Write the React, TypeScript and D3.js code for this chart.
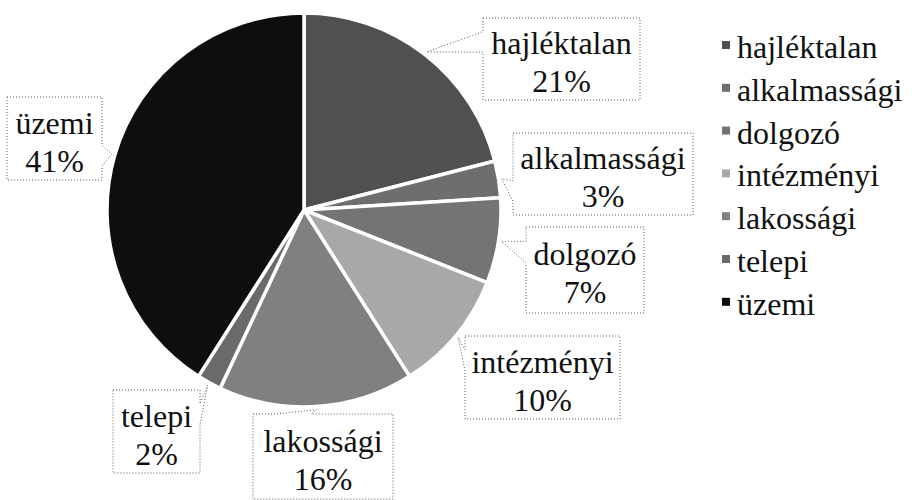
import { pie, arc, PieArcDatum } from "d3";

// slice data, clockwise from 12 o'clock
const categories = [
  "hajléktalan",
  "alkalmassági",
  "dolgozó",
  "intézményi",
  "lakossági",
  "telepi",
  "üzemi",
];
const shares = [21, 3, 7, 10, 16, 2, 41];
const percentLabels = ["21%", "3%", "7%", "10%", "16%", "2%", "41%"];

// greys of the scanned slices
const fills = [
  "#505050",
  "#6e6e6e",
  "#747474",
  "#a8a8a8",
  "#808080",
  "#6a6a6a",
  "#0e0e0e",
];

// hand placed label boxes (like the original Excel labels)
const labelBoxes = [
  { x: 483, y: 18, w: 157, h: 82 },
  { x: 513, y: 133, w: 180, h: 82 },
  { x: 526, y: 227, w: 118, h: 86 },
  { x: 465, y: 336, w: 155, h: 83 },
  { x: 253, y: 414, w: 140, h: 85 },
  { x: 113, y: 390, w: 87, h: 83 },
  { x: 7, y: 97, w: 95, h: 83 },
];

const W = 912;
const H = 500;
const cx = 304;
const cy = 210;
const R = 197;
const FONT =
  '"Liberation Serif", "Times New Roman", Times, "DejaVu Serif", "Noto Serif", FreeSerif, Tinos, serif';
const FS = 32;

type Row = { name: string; value: number; label: string; fill: string };
const rows: Row[] = categories.map((name, i) => ({
  name,
  value: shares[i],
  label: percentLabels[i],
  fill: fills[i],
}));

// wedge-rect callout, same rules as Office's wedgeRectCallout
function callout(b: { x: number; y: number; w: number; h: number }, tx: number, ty: number) {
  const { x: l, y: t, w, h } = b;
  const r = l + w;
  const bt = t + h;
  const dx = tx - (l + w / 2);
  const dy = ty - (t + h / 2);
  const horiz = Math.abs(dx) / w > Math.abs(dy) / h;
  const pts: [number, number][] = [];
  if (horiz) {
    const y1 = t + (h * (dy > 0 ? 7 : 2)) / 12;
    const y2 = t + (h * (dy > 0 ? 10 : 5)) / 12;
    if (dx < 0) {
      pts.push([l, t], [r, t], [r, bt], [l, bt], [l, y2], [tx, ty], [l, y1]);
    } else {
      pts.push([l, t], [r, t], [r, y1], [tx, ty], [r, y2], [r, bt], [l, bt]);
    }
  } else {
    const x1 = l + (w * (dx > 0 ? 7 : 2)) / 12;
    const x2 = l + (w * (dx > 0 ? 10 : 5)) / 12;
    if (dy < 0) {
      pts.push([l, t], [x1, t], [tx, ty], [x2, t], [r, t], [r, bt], [l, bt]);
    } else {
      pts.push([l, t], [r, t], [r, bt], [x2, bt], [tx, ty], [x1, bt], [l, bt]);
    }
  }
  return "M" + pts.map((p) => p.join(",")).join("L") + "Z";
}

export default function App() {
  const arcs = pie<Row>()
    .value((d) => d.value)
    .sort(null)(rows);

  const slice = arc<PieArcDatum<Row>>().innerRadius(0).outerRadius(R);
  const tipArc = arc<PieArcDatum<Row>>().innerRadius(R + 3).outerRadius(R + 3);

  return (
    <div style={{ position: "absolute", left: 0, top: 0, fontFamily: FONT }}>
      <svg
        width={W}
        height={H}
        viewBox={`0 0 ${W} ${H}`}
        style={{ display: "block", background: "#fff" }}
        fontFamily={FONT}
        fontSize={FS}
      >
        <rect width={W} height={H} fill="#fff" />

        {/* Pie */}
        <g transform={`translate(${cx},${cy})`}>
          {arcs.map((a, i) => (
            <path
              key={i}
              d={slice(a) ?? ""}
              fill={a.data.fill}
              stroke="#fff"
              strokeWidth={3.5}
              strokeLinejoin="round"
            />
          ))}
        </g>

        {/* Data labels */}
        {arcs.map((a, i) => {
          const [px, py] = tipArc.centroid(a);
          const b = labelBoxes[i];
          const mx = b.x + b.w / 2;
          const my = b.y + b.h / 2;
          return (
            <g key={i}>
              <path
                d={callout(b, px + cx, py + cy)}
                fill="none"
                stroke="#5a5a5a"
                strokeWidth={1}
                strokeDasharray="1,2"
              />
              <text x={mx} y={my - 5} textAnchor="middle" fill="#111">
                {a.data.name}
              </text>
              <text x={mx} y={my + 33} textAnchor="middle" fill="#111">
                {a.data.label}
              </text>
            </g>
          );
        })}

        {/* Legend */}
        <g transform="translate(722,45)">
          {rows.map((d, i) => (
            <g key={i} transform={`translate(0,${i * 42.8})`}>
              <rect x={0} y={-4} width={8} height={8} fill={d.fill} />
              <text x={15} y={13} fill="#111">
                {d.name}
              </text>
            </g>
          ))}
        </g>
      </svg>
    </div>
  );
}
